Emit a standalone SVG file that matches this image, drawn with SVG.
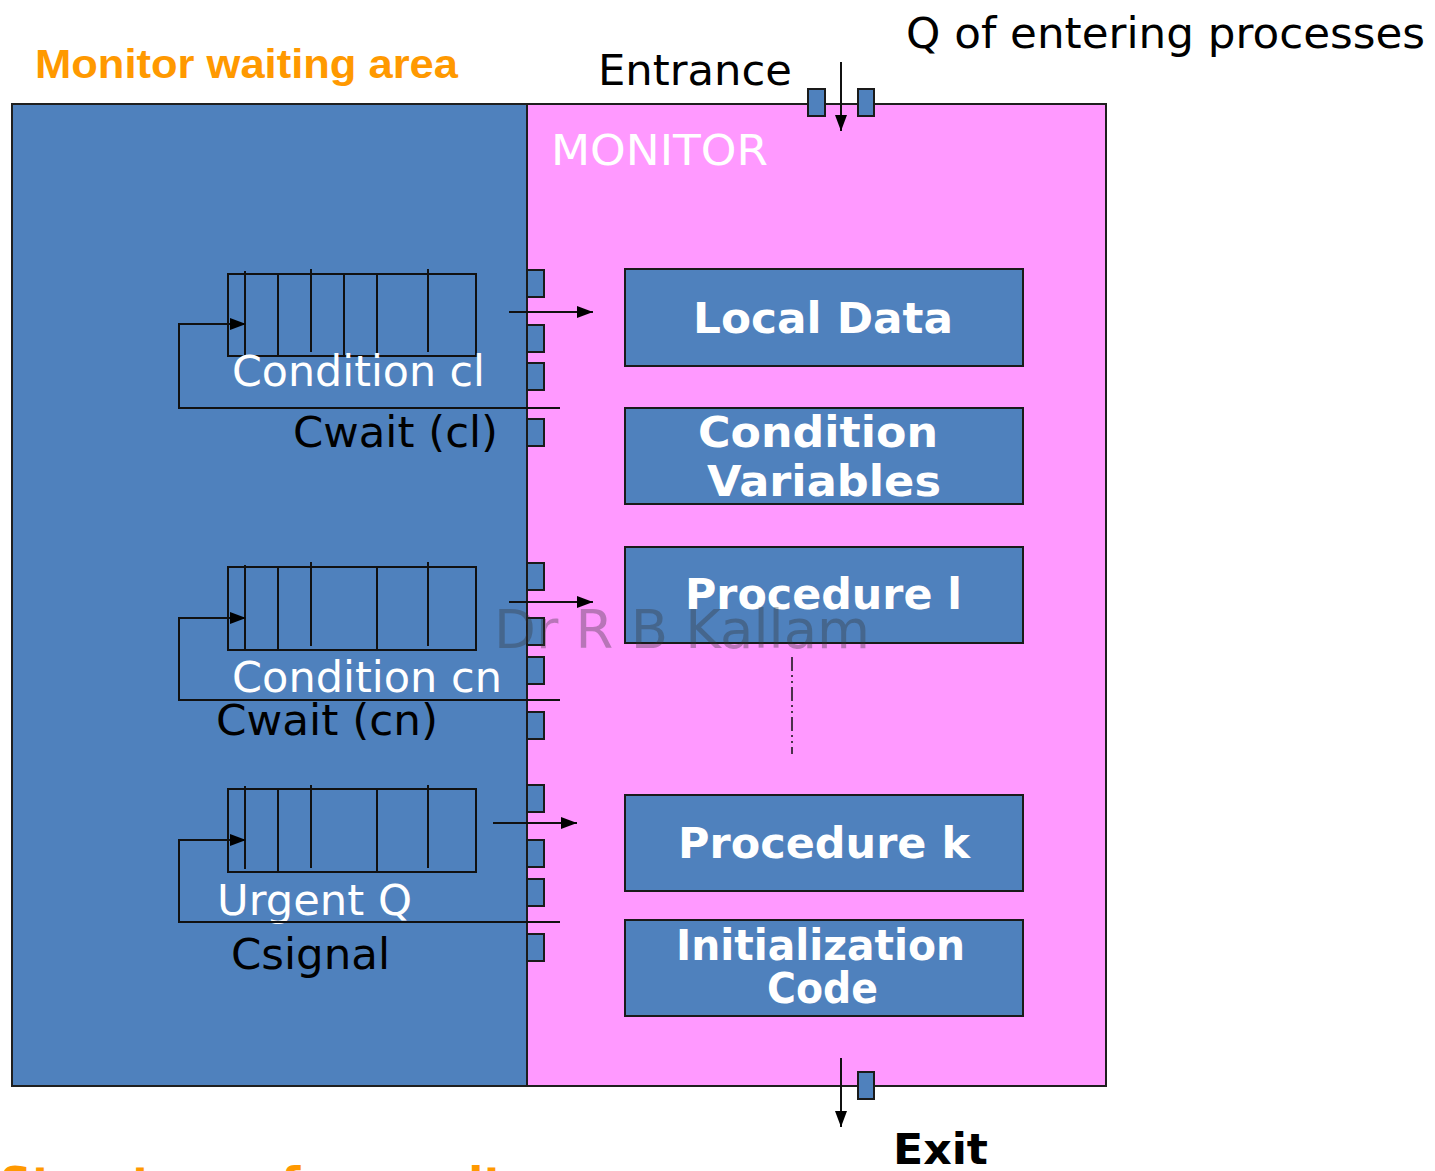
<svg xmlns="http://www.w3.org/2000/svg" width="1435" height="1171" viewBox="0 0 1435 1171">
<style>
.bg{fill:#FFFFFF}
.blue{fill:#4F81BD;stroke:#1F1F1F;stroke-width:2}
.pink{fill:#FF99FF;stroke:#1F1F1F;stroke-width:2}
.box{fill:#4F81BD;stroke:#1A1A1A;stroke-width:2}
.slot{fill:#4F81BD;stroke:#1A1A1A;stroke-width:2}
.q{fill:none;stroke:#111;stroke-width:2}
.ln{fill:none;stroke:#111;stroke-width:2}
.reg{font-family:"DejaVu Sans",Verdana,sans-serif;font-size:43px}
.bold{font-family:"DejaVu Sans",Verdana,sans-serif;font-size:42px;font-weight:bold;fill:#FFFFFF}
.w{fill:#FFFFFF}
.k{fill:#000000}
.orange{fill:#FF9900;font-family:"Liberation Sans",Arial,sans-serif;font-weight:bold;font-size:41px}
</style>
<defs>
<marker id="ah" markerUnits="userSpaceOnUse" markerWidth="18" markerHeight="14" refX="16" refY="7" orient="auto">
<path d="M0,1 L16,7 L0,13 z" fill="#000"/>
</marker>
</defs>
<rect class="bg" x="0" y="0" width="1435" height="1171"/>

<g id="waiting-area">
<rect class="blue" x="12" y="104" width="515" height="982"/>
</g>
<g id="monitor">
<rect class="pink" x="527" y="104" width="579" height="982"/>
<text class="reg w" x="551" y="165" textLength="217" lengthAdjust="spacingAndGlyphs">MONITOR</text>
</g>

<g id="labels">
<text class="orange" x="35" y="78" textLength="423" lengthAdjust="spacingAndGlyphs">Monitor waiting area</text>
<text class="reg k" x="598" y="85" textLength="194" lengthAdjust="spacingAndGlyphs">Entrance</text>
<text class="reg k" x="906" y="48" textLength="519" lengthAdjust="spacingAndGlyphs">Q of entering processes</text>
<text class="bold" x="893" y="1164" style="fill:#000" textLength="95" lengthAdjust="spacingAndGlyphs">Exit</text>
<text x="0" y="1199" style="fill:#FF9900;font-family:'DejaVu Sans',Verdana,sans-serif;font-weight:bold;font-size:44px">Structure of a monitor</text>
</g>

<g id="slots">
<rect class="slot" x="808" y="89" width="17" height="27"/>
<rect class="slot" x="858" y="89" width="16" height="27"/>
<rect class="slot" x="858" y="1072" width="16" height="27"/>
<rect class="slot" x="527" y="270" width="17" height="27"/>
<rect class="slot" x="527" y="325" width="17" height="27"/>
<rect class="slot" x="527" y="363" width="17" height="27"/>
<rect class="slot" x="527" y="419" width="17" height="27"/>
<rect class="slot" x="527" y="563" width="17" height="27"/>
<rect class="slot" x="527" y="618" width="17" height="27"/>
<rect class="slot" x="527" y="657" width="17" height="27"/>
<rect class="slot" x="527" y="712" width="17" height="27"/>
<rect class="slot" x="527" y="785" width="17" height="27"/>
<rect class="slot" x="527" y="840" width="17" height="27"/>
<rect class="slot" x="527" y="879" width="17" height="27"/>
<rect class="slot" x="527" y="934" width="17" height="27"/>
</g>

<g id="queue-cl">
<rect class="q" x="228" y="274" width="248" height="82"/>
<path class="q" d="M245,271 V356 M278,274 V356 M311,269 V352 M344,274 V356 M377,274 V356 M428,269 V352"/>
<text class="reg w" x="232" y="386" textLength="253" lengthAdjust="spacingAndGlyphs">Condition cl</text>
<text class="reg k" x="293" y="447" textLength="205" lengthAdjust="spacingAndGlyphs">Cwait (cl)</text>
</g>
<g id="queue-cn">
<rect class="q" x="228" y="567" width="248" height="83"/>
<path class="q" d="M245,565 V650 M278,567 V650 M311,562 V646 M377,567 V650 M428,562 V646"/>
<text class="reg w" x="232" y="692" textLength="270" lengthAdjust="spacingAndGlyphs">Condition cn</text>
<text class="reg k" x="216" y="735" textLength="222" lengthAdjust="spacingAndGlyphs">Cwait (cn)</text>
</g>
<g id="urgent-q">
<rect class="q" x="228" y="789" width="248" height="83"/>
<path class="q" d="M245,786 V869 M278,789 V872 M311,785 V868 M377,789 V872 M428,785 V868"/>
<text class="reg w" x="217" y="915" textLength="195" lengthAdjust="spacingAndGlyphs">Urgent Q</text>
<text class="reg k" x="231" y="969" textLength="159" lengthAdjust="spacingAndGlyphs">Csignal</text>
</g>

<g id="local-data">
<rect class="box" x="625" y="269" width="398" height="97"/>
<text class="bold" x="823" y="333" text-anchor="middle" textLength="260" lengthAdjust="spacingAndGlyphs">Local Data</text>
</g>
<g id="condition-variables">
<rect class="box" x="625" y="408" width="398" height="96"/>
<text class="bold" x="818" y="447" text-anchor="middle" textLength="240" lengthAdjust="spacingAndGlyphs">Condition</text>
<text class="bold" x="824" y="496" text-anchor="middle" textLength="234" lengthAdjust="spacingAndGlyphs">Variables</text>
</g>
<g id="procedure-l">
<rect class="box" x="625" y="547" width="398" height="96"/>
<text class="bold" x="685" y="609" textLength="277" lengthAdjust="spacingAndGlyphs">Procedure l</text>
</g>
<g id="procedure-k">
<rect class="box" x="625" y="795" width="398" height="96"/>
<text class="bold" x="678" y="858" textLength="292" lengthAdjust="spacingAndGlyphs">Procedure k</text>
</g>
<g id="initialization-code">
<rect class="box" x="625" y="920" width="398" height="96"/>
<text class="bold" x="676" y="960" textLength="289" lengthAdjust="spacingAndGlyphs">Initialization</text>
<text class="bold" x="767" y="1003" textLength="111" lengthAdjust="spacingAndGlyphs">Code</text>
</g>

<g id="connectors">
<line class="ln" x1="841" y1="62" x2="841" y2="131" marker-end="url(#ah)"/>
<line class="ln" x1="841" y1="1058" x2="841" y2="1127" marker-end="url(#ah)"/>
<line class="ln" x1="509" y1="312" x2="593" y2="312" marker-end="url(#ah)"/>
<line class="ln" x1="509" y1="602" x2="593" y2="602" marker-end="url(#ah)"/>
<line class="ln" x1="493" y1="823" x2="577" y2="823" marker-end="url(#ah)"/>
<path class="ln" d="M560,408 H179 V324 H246" marker-end="url(#ah)"/>
<path class="ln" d="M560,700 H179 V618 H246" marker-end="url(#ah)"/>
<path class="ln" d="M560,922 H179 V840 H246" marker-end="url(#ah)"/>
<line x1="792" y1="657" x2="792" y2="754" stroke="#111" stroke-width="1.5" stroke-dasharray="14 4 2 4 2 4"/>
</g>

<g id="watermark">
<text x="494" y="648" style="font-family:'DejaVu Sans',Verdana,sans-serif;font-size:54px;fill:#333;fill-opacity:0.35" textLength="376" lengthAdjust="spacingAndGlyphs">Dr R B Kallam</text>
</g>
</svg>
